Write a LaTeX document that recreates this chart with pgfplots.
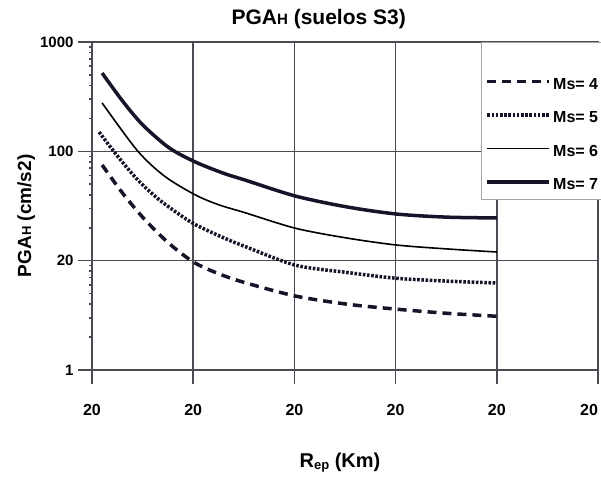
\documentclass[border=0pt]{standalone}
\usepackage{fontspec}
\setmainfont{Liberation Sans}
\usepackage{pgfplots}
\pgfplotsset{compat=1.18}
\usetikzlibrary{calc}

\definecolor{ink}{HTML}{15152A}
\definecolor{gridc}{HTML}{4A4A52}
\definecolor{thin}{HTML}{66666E}

\newcommand{\fs}[1]{\fontsize{#1}{#1}\selectfont}

\begin{document}
\begin{tikzpicture}
\begin{axis}[
  name=ax,
  scale only axis,
  width=506bp, height=328bp,
  xmin=0, xmax=5,
  ymode=log, ymin=1, ymax=1000,
  xtick={0,1,2,3,4,5},
  xticklabels={20,20,20,20,20,\llap{20}},
  ytick={1,10,100,1000},
  yticklabels={1,20,100,1000},
  minor ytick={},
  tick pos=left,
  grid=major,
  major grid style={gridc, line width=1.6bp},
  axis line style={gridc, line width=1.6bp},
  tick style={gridc, line width=1.6bp},
  tick align=outside,
  major tick length=14bp,
  /pgf/number format/assume math mode=true,
  x tick label style={font=\bfseries\fs{16bp}, yshift=-17bp},
  y tick label style={font=\bfseries\fs{15bp}, xshift=-1bp},
  title={PGA{\fs{15bp}H} (suelos S3)},
  title style={font=\bfseries\fs{21bp}, at={(axis description cs:0.448,1.035)}, anchor=base},
  ylabel={PGA{\fs{13bp}H} (cm/s2)},
  ylabel style={font=\bfseries\fs{19bp}, at={(axis description cs:-0.13,0.47)}, anchor=center},
  xlabel={R{\fs{13bp}\raisebox{-1.5bp}{ep}} (Km)},
  xlabel style={font=\bfseries\fs{20bp}, at={(axis description cs:0.49,-0.283)}, anchor=center},
  legend style={at={(rel axis cs:0.769,1)}, anchor=north west, draw=gray!70, line width=1.2bp,
    fill=white, font=\bfseries\fs{16bp}, row sep=17bp, inner xsep=4bp, inner ysep=6bp,
    nodes={inner sep=2bp}},
  legend cell align=left,
  legend image code/.code={\draw[#1] (0bp,0.3em) -- (62bp,0.3em);},
]
\addlegendimage{empty legend}
\addlegendentry{\rule{0pt}{5bp}}
% Ms = 4
\addplot[ink, line width=3.5bp, dash pattern=on 9bp off 6bp, smooth] coordinates {
  (0.1,75) (0.3,41.7) (0.5,25) (0.7,16.2) (0.85,12.3) (1.02,9.5) (1.25,7.6)
  (1.51,6.3) (2.01,4.75) (2.52,4.0) (3.01,3.6) (3.51,3.3) (4,3.1)
};
\addlegendentry{Ms= 4}
% Ms = 5
\addplot[ink, line width=3.5bp, dash pattern=on 2.6bp off 1.6bp, smooth] coordinates {
  (0.07,150) (0.25,91) (0.45,55) (0.65,37) (0.85,27) (1.02,21.4) (1.3,16.2)
  (1.51,13.5) (2.01,9.1) (2.52,7.8) (3.01,6.9) (3.51,6.5) (4,6.25)
};
\addlegendentry{Ms= 5}
% Ms = 6
\addplot[thin, line width=1.6bp, smooth] coordinates {
  (0.1,277) (0.45,101) (0.72,59) (1.02,40) (1.25,32.5) (1.51,27.5) (2.01,19.8)
  (2.52,16.1) (3.01,13.9) (3.51,12.8) (4,12.0)
};
\addlegendentry{Ms= 6}
% Ms = 7
\addplot[ink, line width=3.5bp, smooth] coordinates {
  (0.1,520) (0.3,290) (0.5,175) (0.76,108) (1.02,80) (1.3,63) (1.51,54.7)
  (2.01,39) (2.52,31) (3.01,26.7) (3.51,25) (4,24.6)
};
\addlegendentry{Ms= 7}
\end{axis}
\pgfresetboundingbox
\path ($(ax.south west)+(-92bp,-107bp)$) rectangle ($(ax.north east)+(3bp,42bp)$);
\end{tikzpicture}
\end{document}
